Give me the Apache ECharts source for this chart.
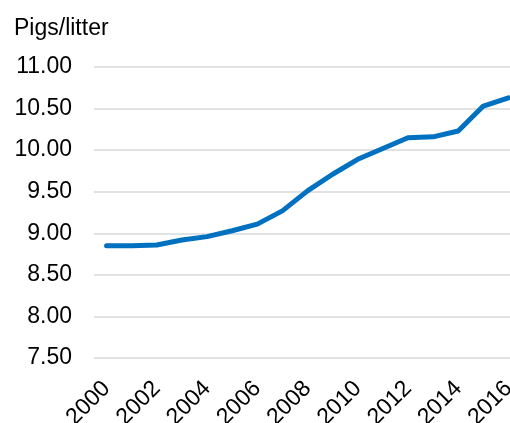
<!DOCTYPE html>
<html><head><meta charset="utf-8">
<script src="https://cdn.jsdelivr.net/npm/echarts@6/dist/echarts.min.js"></script>
<style>html,body{margin:0;padding:0;background:#fff}#c{width:510px;height:423px}</style>
</head><body><div id="c"></div>
<script>
var years = ['2000','2001','2002','2003','2004','2005','2006','2007','2008','2009','2010','2011','2012','2013','2014','2015','2016'];
var pigsPerLitter = [8.85,8.85,8.86,8.92,8.96,9.03,9.11,9.27,9.51,9.71,9.89,10.02,10.15,10.16,10.23,10.53,10.63];
var yTicks = {min:7.5, max:11, interval:0.5};
var chart = echarts.init(document.getElementById('c'), null, {renderer:'canvas'});
chart.setOption({
  animation:false,
  title:{text:'Pigs/litter', left:9, top:12, textStyle:{fontFamily:'Liberation Sans, Arial', fontSize:23, fontWeight:'normal', color:'#000'}},
  grid:{left:94, top:67, width:427, height:291, containLabel:false, outerBoundsMode:'none'},
  xAxis:{type:'category', data:years, boundaryGap:true,
    axisLine:{show:false}, axisTick:{show:false},
    axisLabel:{interval:1, rotate:45, margin:27, fontFamily:'Liberation Sans, Arial', fontSize:23, color:'#000'}},
  yAxis:{type:'value', min:yTicks.min, max:yTicks.max, interval:yTicks.interval,
    axisLine:{show:false}, axisTick:{show:false},
    axisLabel:{margin:22, fontFamily:'Liberation Sans, Arial', fontSize:23, color:'#000', formatter:function(v){return v.toFixed(2);}},
    splitLine:{lineStyle:{color:'#d9d9d9', width:1.5}}},
  series:[{type:'line', data:pigsPerLitter, showSymbol:false, symbol:'none',
    lineStyle:{color:'#0070C0', width:5, cap:'round', join:'round'}}]
});
</script></body></html>
